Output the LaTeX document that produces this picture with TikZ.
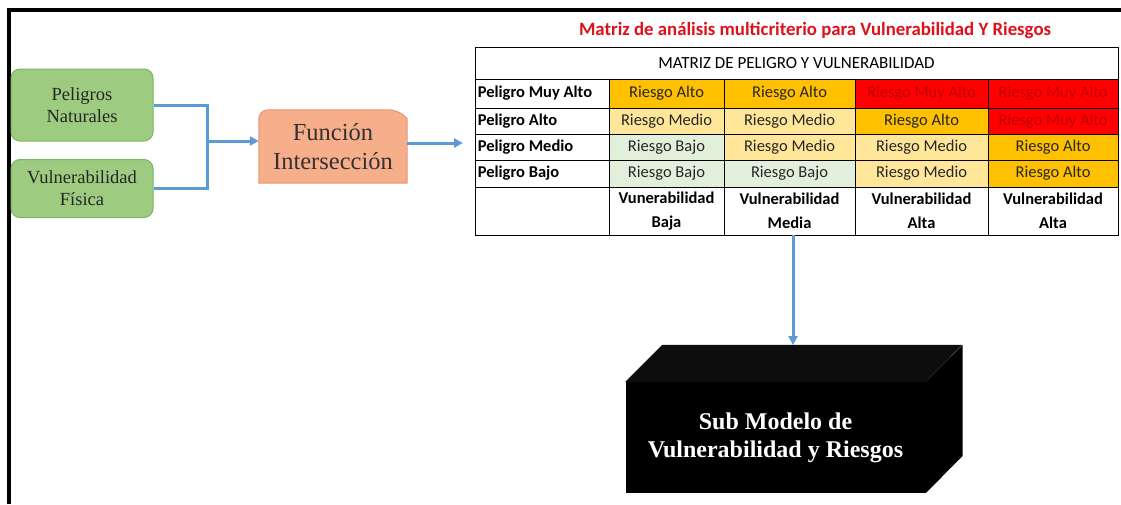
\documentclass[tikz,border=0pt]{standalone}
\usepackage{fontspec}
\setmainfont{Liberation Serif}
\newfontfamily\calfont{Carlito}
\usetikzlibrary{arrows.meta,backgrounds}
\definecolor{gfill}{HTML}{9DCC80}
\definecolor{gdraw}{HTML}{7DB463}
\definecolor{ofill}{HTML}{F7AE8A}
\definecolor{odraw}{HTML}{E4987A}
\definecolor{arrowblue}{HTML}{5B9BD5}
\definecolor{cAlto}{HTML}{FFC000}
\definecolor{cMedio}{HTML}{FFE699}
\definecolor{cBajo}{HTML}{E2EFDA}
\definecolor{cMuy}{HTML}{FF0000}
\definecolor{tMuy}{HTML}{C00000}
\definecolor{titlered}{HTML}{E0101A}
\begin{document}
\begin{tikzpicture}[x=1pt,y=-1pt,
  natsp/.style={execute at begin node={\spaceskip=0pt\xspaceskip=0pt\relax}},
  greenbox/.style={draw=gdraw,line width=1pt,fill=gfill,rounded corners=9pt,natsp,
    minimum width=142pt,align=center,font=\fontsize{18.5}{22}\selectfont,inner sep=0pt,text=black!85},
  conn/.style={draw=arrowblue,line width=3pt},
  arr/.style={conn,-{Triangle[length=9pt,width=9pt]}},
  cell/.style={draw=black,line width=0.8pt,inner sep=0pt,anchor=center,
    font=\calfont\fontsize{16.5}{19}\selectfont,text=black!85},
  alto/.style={cell,fill=cAlto},
  medio/.style={cell,fill=cMedio},
  bajo/.style={cell,fill=cBajo},
  muy/.style={cell,fill=cMuy,text=tMuy},
  rowhead/.style={cell,fill=white,minimum width=134pt},
  rowtext/.style={anchor=west,inner sep=0pt,font=\calfont\bfseries\fontsize{16.5}{19}\selectfont,text=black},
  colhead/.style={cell,fill=white,natsp,font=\calfont\bfseries\fontsize{16.5}{24}\selectfont,text=black,align=center},
]
\useasboundingbox (0,0) rectangle (1121,504);
% frame
\draw[line width=4pt] (9,504) -- (9,10) -- (1121,10);

% inputs
\node[greenbox,minimum height=72pt] (pn) at (82,105) {Peligros\\Naturales};
\node[greenbox,minimum height=58pt] (vf) at (82,188.5) {Vulnerabilidad\\Física};

% function box
\node[minimum width=148pt,minimum height=73pt,inner sep=0pt,align=center,natsp,
  font=\fontsize{24.5}{29}\selectfont,text=black!80] (fi) at (333,146.5) {Función\\Intersección};
\begin{scope}[on background layer]
\draw[draw=odraw,fill=ofill,line width=1pt,rounded corners=9pt]
  (fi.south west) -- (fi.north west) -- ([xshift=-9pt]fi.north east) [sharp corners]
  -- ([yshift=-9pt]fi.north east) -- (fi.south east) -- cycle;
\end{scope}

% connectors
\coordinate (j) at (207,141);
\draw[conn] (pn.east) -| (j) |- (vf.east);
\draw[arr] (j) -- (j -| fi.west);
\coordinate (tin) at (463,143);
\draw[arr] (fi.east |- tin) -- (tin);

% title
\node[font=\calfont\bfseries\fontsize{18.8}{22}\selectfont,text=titlered] (title) at (815,30) {Matriz de análisis multicriterio para Vulnerabilidad Y Riesgos};

% table
\node[cell,fill=white,minimum width=643pt,minimum height=32pt,font=\calfont\fontsize{17}{19}\selectfont,text=black] (hdr) at (796.5,63) {MATRIZ DE PELIGRO Y VULNERABILIDAD};

\node[rowhead,minimum height=29pt] (r1) at (542,93.5) {};
\node[rowtext] (r1t) at ([xshift=3pt]r1.west) {Peligro Muy Alto};
\node[alto,minimum width=115pt,minimum height=29pt] (c11) at (666.5,93.5) {Riesgo Alto};
\node[alto,minimum width=131pt,minimum height=29pt] (c12) at (789.5,93.5) {Riesgo Alto};
\node[muy,minimum width=133pt,minimum height=29pt] (c13) at (921.5,93.5) {Riesgo Muy Alto};
\node[muy,minimum width=130pt,minimum height=29pt] (c14) at (1053,93.5) {Riesgo Muy Alto};

\node[rowhead,minimum height=26pt] (r2) at (542,121) {};
\node[rowtext] (r2t) at ([xshift=3pt]r2.west) {Peligro Alto};
\node[medio,minimum width=115pt,minimum height=26pt] (c21) at (666.5,121) {Riesgo Medio};
\node[medio,minimum width=131pt,minimum height=26pt] (c22) at (789.5,121) {Riesgo Medio};
\node[alto,minimum width=133pt,minimum height=26pt] (c23) at (921.5,121) {Riesgo Alto};
\node[muy,minimum width=130pt,minimum height=26pt] (c24) at (1053,121) {Riesgo Muy Alto};

\node[rowhead,minimum height=26pt] (r3) at (542,147) {};
\node[rowtext] (r3t) at ([xshift=3pt]r3.west) {Peligro Medio};
\node[bajo,minimum width=115pt,minimum height=26pt] (c31) at (666.5,147) {Riesgo Bajo};
\node[medio,minimum width=131pt,minimum height=26pt] (c32) at (789.5,147) {Riesgo Medio};
\node[medio,minimum width=133pt,minimum height=26pt] (c33) at (921.5,147) {Riesgo Medio};
\node[alto,minimum width=130pt,minimum height=26pt] (c34) at (1053,147) {Riesgo Alto};

\node[rowhead,minimum height=27pt] (r4) at (542,173.5) {};
\node[rowtext] (r4t) at ([xshift=3pt]r4.west) {Peligro Bajo};
\node[bajo,minimum width=115pt,minimum height=27pt] (c41) at (666.5,173.5) {Riesgo Bajo};
\node[bajo,minimum width=131pt,minimum height=27pt] (c42) at (789.5,173.5) {Riesgo Bajo};
\node[medio,minimum width=133pt,minimum height=27pt] (c43) at (921.5,173.5) {Riesgo Medio};
\node[alto,minimum width=130pt,minimum height=27pt] (c44) at (1053,173.5) {Riesgo Alto};

\node[rowhead,minimum height=48pt] (r5) at (542,211) {};
\node[colhead,minimum width=115pt,minimum height=48pt] (c51) at (666.5,211) {Vunerabilidad\\Baja};
\node[colhead,minimum width=131pt,minimum height=48pt] (c52) at (789.5,211) {Vulnerabilidad\\Media};
\node[colhead,minimum width=133pt,minimum height=48pt] (c53) at (921.5,211) {Vulnerabilidad\\Alta};
\node[colhead,minimum width=130pt,minimum height=48pt] (c54) at (1053,211) {Vulnerabilidad\\Alta};

% 3D box
\node[fill=black,minimum width=300pt,minimum height=111pt,inner sep=0pt,align=center,natsp,
  text=white,font=\bfseries\fontsize{24}{28}\selectfont] (sm) at (775.5,437.5) {Sub Modelo de\\Vulnerabilidad y Riesgos};
\fill[black!95] (sm.north west) -- ++(37,-37) -- ++(300,0) -- (sm.north east) -- cycle;
\fill[black] (sm.north east) -- ++(37,-37) -- ++(0,111) -- (sm.south east) -- cycle;
\coordinate (smtop) at (793,345);
\draw[arr] (c52.south -| smtop) -- (smtop);
\end{tikzpicture}
\end{document}
